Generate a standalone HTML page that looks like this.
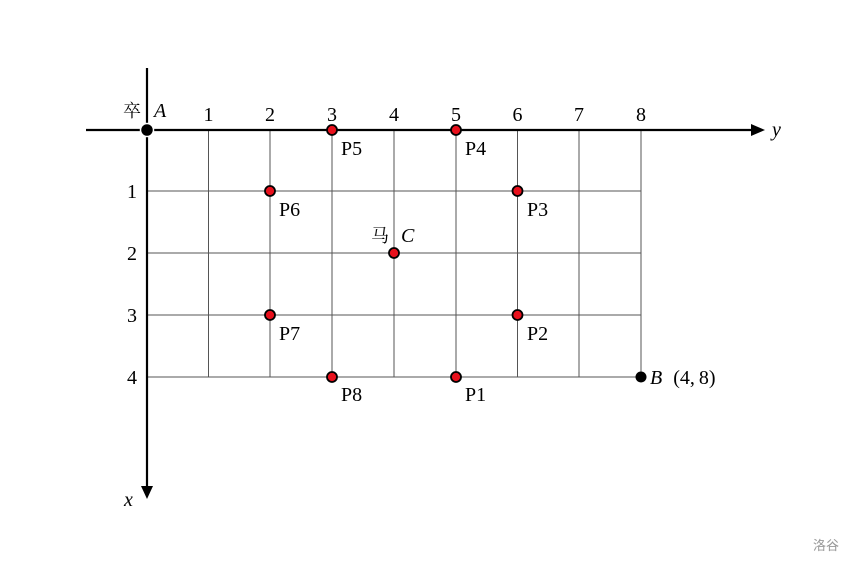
<!DOCTYPE html>
<html><head><meta charset="utf-8"><style>
html,body{margin:0;padding:0;background:#fff;}
svg{display:block;}
text{font-family:"Liberation Serif","Noto Serif CJK SC",serif;font-size:20px;fill:#000;}
.i{font-style:italic;}
</style></head><body>
<svg width="854" height="564" viewBox="0 0 854 564" xmlns="http://www.w3.org/2000/svg">
<g stroke="#555" stroke-width="1" fill="none">
<line x1="147" y1="191" x2="641" y2="191"/>
<line x1="147" y1="253" x2="641" y2="253"/>
<line x1="147" y1="315" x2="641" y2="315"/>
<line x1="147" y1="377" x2="641" y2="377"/>
<line x1="208.5" y1="130" x2="208.5" y2="377"/>
<line x1="270" y1="130" x2="270" y2="377"/>
<line x1="332" y1="130" x2="332" y2="377"/>
<line x1="394" y1="130" x2="394" y2="377"/>
<line x1="456" y1="130" x2="456" y2="377"/>
<line x1="517.5" y1="130" x2="517.5" y2="377"/>
<line x1="579" y1="130" x2="579" y2="377"/>
<line x1="641" y1="130" x2="641" y2="377"/>
</g>
<g stroke="#000" stroke-width="2.2">
<line x1="86" y1="130" x2="752" y2="130"/>
<line x1="147" y1="68" x2="147" y2="487"/>
</g>
<polygon points="751,124 765,130 751,136" fill="#000"/>
<polygon points="141,486 147,499 153,486" fill="#000"/>
<text x="772" y="136" class="i">y</text>
<text x="124" y="506" class="i">x</text>
<g text-anchor="middle">
<text x="208.5" y="121">1</text><text x="270" y="121">2</text><text x="332" y="121">3</text>
<text x="394" y="121">4</text><text x="456" y="121">5</text><text x="517.5" y="121">6</text>
<text x="579" y="121">7</text><text x="641" y="121">8</text>
<text x="132" y="198">1</text><text x="132" y="260">2</text><text x="132" y="322">3</text><text x="132" y="384">4</text>
</g>
<text x="123" y="117" style="font-size:18px">卒</text>
<text x="154" y="117" class="i">A</text>
<text x="371" y="242" style="font-size:18px">马</text>
<text x="401" y="242" class="i">C</text>
<text x="650" y="384" style="word-spacing:6px"><tspan class="i">B</tspan> (4,<tspan dx="4">8)</tspan></text>
<circle cx="147" cy="130" r="6.5" fill="#000" stroke="#fff" stroke-width="1.5"/>
<circle cx="641" cy="377" r="5.5" fill="#000"/>
<g fill="#e8101c" stroke="#000" stroke-width="1.8">
<circle cx="332" cy="130" r="5"/><circle cx="456" cy="130" r="5"/>
<circle cx="270" cy="191" r="5"/><circle cx="517.5" cy="191" r="5"/>
<circle cx="394" cy="253" r="5"/>
<circle cx="270" cy="315" r="5"/><circle cx="517.5" cy="315" r="5"/>
<circle cx="332" cy="377" r="5"/><circle cx="456" cy="377" r="5"/>
</g>
<text x="341" y="155">P5</text><text x="465" y="155">P4</text>
<text x="279" y="216">P6</text><text x="527" y="216">P3</text>
<text x="279" y="340">P7</text><text x="527" y="340">P2</text>
<text x="341" y="401">P8</text><text x="465" y="401">P1</text>
<text x="813" y="550" style="font-family:'Noto Sans CJK SC',sans-serif;font-size:13px;fill:#999">洛谷</text>
</svg>
</body></html>
